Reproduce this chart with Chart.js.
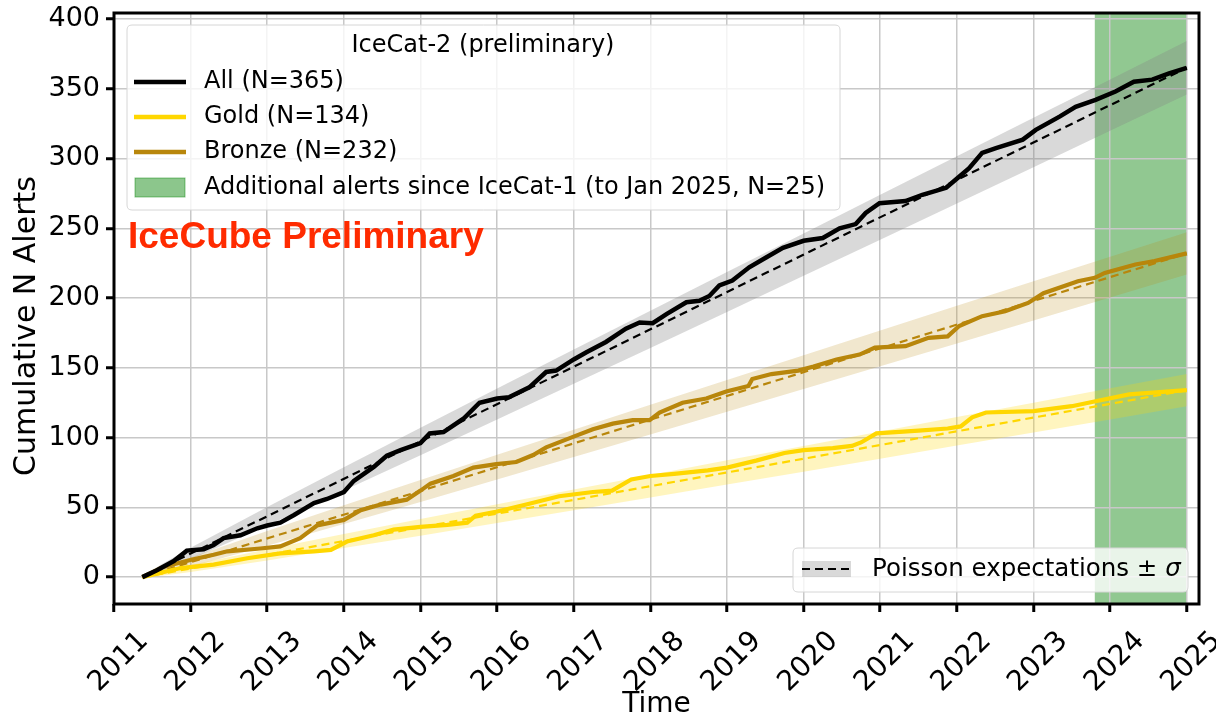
<!DOCTYPE html>
<html><head><meta charset="utf-8">
<script src="https://cdn.jsdelivr.net/npm/chart.js@4/dist/chart.umd.min.js"></script>
<style>html,body{margin:0;padding:0;background:#fff;} #c{display:block;}</style>
</head><body>
<canvas id="c" width="1216" height="719"></canvas>
<script>
// ---------- data ----------
const yearTicks = [2011,2012,2013,2014,2015,2016,2017,2018,2019,2020,2021,2022,2023,2024,2025];
const countTicks = [0,50,100,150,200,250,300,350,400];

const allX = [2011.37,2011.56,2011.78,2011.95,2012.17,2012.30,2012.43,2012.65,2012.87,2013.0,2013.17,2013.35,2013.61,2013.78,2014.0,2014.13,2014.39,2014.56,2014.74,2015.0,2015.12,2015.3,2015.56,2015.77,2016.0,2016.16,2016.42,2016.64,2016.77,2017.0,2017.16,2017.42,2017.68,2017.86,2018.03,2018.21,2018.47,2018.64,2018.77,2018.90,2019.07,2019.29,2019.51,2019.73,2020.0,2020.25,2020.47,2020.68,2020.81,2020.99,2021.33,2021.55,2021.86,2022.01,2022.16,2022.33,2022.51,2022.86,2023.03,2023.34,2023.55,2023.81,2024.07,2024.31,2024.55,2024.77,2025.0];
const allY = [0,5,11.5,19,20,23,28,30,35,37,39,44.5,53,56,61,69,79,87,91,96,103,104,113.5,125,128,129,136,147,148,156,161,168.5,178,182.5,182,188.5,197,198,201.5,209,212.5,222,229,236,241,243,250,253,261,268,269.5,274,279,286,293,304,307.5,313.5,320.5,330,337,342,348,355,356.5,361,365];

const goldX = [2011.37,2011.87,2012.30,2012.74,2013.17,2013.61,2013.83,2014.04,2014.39,2014.65,2015.0,2015.35,2015.61,2015.72,2016.0,2016.38,2016.81,2017.25,2017.5,2017.75,2018.0,2018.31,2018.75,2019.0,2019.38,2019.75,2020.0,2020.38,2020.63,2020.75,2020.95,2021.5,2021.88,2022.05,2022.2,2022.38,2023.0,2023.5,2023.81,2024.25,2025.0];
const goldY = [0,6.5,9,13.5,17,18.5,19.5,25.5,30,34,36,37.5,39,44,47,52,58,61,62,70,72.5,74,76.5,78.5,83.5,89,91,92.5,94,96.5,103,105,106.5,108,114.5,118,119,122.5,126,131,134];

const bronzeX = [2011.37,2011.65,2012.01,2012.30,2012.48,2012.91,2013.17,2013.43,2013.65,2014.0,2014.22,2014.48,2014.82,2015.0,2015.13,2015.43,2015.69,2015.99,2016.25,2016.47,2016.64,2016.99,2017.25,2017.51,2017.77,2017.99,2018.12,2018.42,2018.73,2018.99,2019.28,2019.33,2019.58,2019.93,2020.13,2020.43,2020.73,2020.93,2021.33,2021.63,2021.88,2022.03,2022.33,2022.63,2022.93,2023.13,2023.58,2023.8,2023.93,2024.33,2024.58,2025.0];
const bronzeY = [0,7.5,12.5,16,18.5,20.5,22,28,37,41,48,52,55.5,62,67,72.5,78.5,81,82.5,87.5,93,100.5,106,110,112.5,112.5,118,125,128,133,137,142,145.5,148,151,156,159.5,164.5,165.5,171.5,172.5,180,187,190.5,196.5,203.5,212,214.5,218,224,226.5,232];

// Poisson expectation (dashed) end points
const expX = [2011.37, 2025.0];
const expAll = [0, 365];
const expGold = [0, 134];
const expBronze = [0, 232];

// +/- sigma bands
const bandX = [2011.37,2011.6,2012,2013,2014,2015,2016,2017,2018,2019,2020,2021,2022,2023,2024,2025];
const allLo = [0,3.7,12.8,37.0,62.0,87.4,112.9,138.5,164.2,190.0,215.9,241.8,267.8,293.8,319.8,345.9];
const allHi = [0,8.6,21.0,50.3,78.8,107.1,135.1,163.1,190.9,218.6,246.3,274.0,301.6,329.1,356.6,384.1];
const goldLo = [0,0.8,3.7,12.0,20.8,29.7,38.8,47.9,57.1,66.3,75.6,84.9,94.3,103.6,113.0,122.4];
const goldHi = [0,3.8,8.7,20.0,30.9,41.7,52.3,62.8,73.2,83.7,94.0,104.4,114.7,125.0,135.3,145.6];
const bronzeLo = [0,1.9,7.5,22.5,38.1,53.9,69.9,86.0,102.2,118.5,134.8,151.1,167.5,183.9,200.3,216.8];
const bronzeHi = [0,5.9,14.0,33.0,51.5,69.6,87.7,105.6,123.5,141.3,159.0,176.7,194.4,212.0,229.6,247.2];

// additional alerts span (since IceCat-1)
const spanX = [2023.80, 2025.0];

const yTitle = 'Cumulative N Alerts';
const legendTitle = 'IceCat-2 (preliminary)';
const legendLabels = ['All (N=365)', 'Gold (N=134)', 'Bronze (N=232)', 'Additional alerts since IceCat-1 (to Jan 2025, N=25)'];
const poissonLabel = 'Poisson expectations \u00b1 ';

// ---------- styles ----------
const BLACK = '#000000', GOLD = '#FFD700', BRONZE = '#B8860B';
const pts = (xs, ys) => xs.map((x, i) => ({x, y: ys[i]}));

Chart.defaults.font.family = "'DejaVu Sans', sans-serif";
Chart.defaults.color = '#000';

const datasets = [
  {label:'allLo', data: pts(bandX, allLo), borderWidth:0, pointRadius:0, fill:false, order:30},
  {label:'allHi', data: pts(bandX, allHi), borderWidth:0, pointRadius:0, fill:{target:0}, backgroundColor:'rgba(128,128,128,0.3)', order:29},
  {label:'bronzeLo', data: pts(bandX, bronzeLo), borderWidth:0, pointRadius:0, fill:false, order:28},
  {label:'bronzeHi', data: pts(bandX, bronzeHi), borderWidth:0, pointRadius:0, fill:{target:2}, backgroundColor:'rgba(184,134,11,0.2)', order:27},
  {label:'goldLo', data: pts(bandX, goldLo), borderWidth:0, pointRadius:0, fill:false, order:26},
  {label:'goldHi', data: pts(bandX, goldHi), borderWidth:0, pointRadius:0, fill:{target:4}, backgroundColor:'rgba(255,215,0,0.25)', order:25},
  {label:'expAll', data: pts(expX, expAll), borderColor:BLACK, borderWidth:2.2, borderDash:[8,5], pointRadius:0, fill:false, order:20},
  {label:'expBronze', data: pts(expX, expBronze), borderColor:BRONZE, borderWidth:2.2, borderDash:[8,5], pointRadius:0, fill:false, order:19},
  {label:'expGold', data: pts(expX, expGold), borderColor:GOLD, borderWidth:2.2, borderDash:[8,5], pointRadius:0, fill:false, order:18},
  {label:'Gold', data: pts(goldX, goldY), borderColor:GOLD, borderWidth:4.2, pointRadius:0, fill:false, order:3},
  {label:'Bronze', data: pts(bronzeX, bronzeY), borderColor:BRONZE, borderWidth:4.2, pointRadius:0, fill:false, order:2},
  {label:'All', data: pts(allX, allY), borderColor:BLACK, borderWidth:4.5, pointRadius:0, fill:false, order:1}
];

function roundRect(ctx, x, y, w, h, r) {
  ctx.beginPath();
  ctx.moveTo(x + r, y);
  ctx.lineTo(x + w - r, y); ctx.quadraticCurveTo(x + w, y, x + w, y + r);
  ctx.lineTo(x + w, y + h - r); ctx.quadraticCurveTo(x + w, y + h, x + w - r, y + h);
  ctx.lineTo(x + r, y + h); ctx.quadraticCurveTo(x, y + h, x, y + h - r);
  ctx.lineTo(x, y + r); ctx.quadraticCurveTo(x, y, x + r, y);
  ctx.closePath();
}

const decor = {
  id: 'decor',
  beforeDraw(chart) {
    const {ctx, chartArea: a, scales: {x}} = chart;
    ctx.save();
    const x0 = x.getPixelForValue(spanX[0]), x1 = x.getPixelForValue(spanX[1]);
    ctx.fillStyle = 'rgba(0,128,0,0.43)';
    ctx.fillRect(x0, a.top, x1 - x0, a.bottom - a.top);
    ctx.restore();
  },
  afterDatasetsDraw(chart) {
    const {ctx, chartArea: a} = chart;
    ctx.save();
    ctx.strokeStyle = '#000'; ctx.lineWidth = 3;
    ctx.strokeRect(a.left, a.top, a.right - a.left, a.bottom - a.top);
    ctx.restore();
  },
  afterDraw(chart) {
    const {ctx} = chart;
    ctx.save();
    // y-axis title
    ctx.save();
    ctx.translate(27, 326);
    ctx.rotate(-Math.PI / 2);
    ctx.font = "30px 'DejaVu Sans'"; ctx.fillStyle = '#000';
    ctx.textAlign = 'center'; ctx.textBaseline = 'middle';
    ctx.fillText(yTitle, 0, 0);
    ctx.restore();

    roundRect(ctx, 127, 25, 713, 185, 5);
    ctx.fillStyle = 'rgba(255,255,255,0.8)'; ctx.fill();
    ctx.strokeStyle = '#d6d6d6'; ctx.lineWidth = 1; ctx.stroke();
    ctx.font = "24px 'DejaVu Sans'"; ctx.fillStyle = '#000';
    ctx.textBaseline = 'middle'; ctx.textAlign = 'center';
    ctx.fillText(legendTitle, 483, 46);
    ctx.textAlign = 'left';
    const rows = [82, 117, 152, 188];
    const cols = [BLACK, GOLD, BRONZE];
    ctx.lineWidth = 4.5; ctx.lineCap = 'butt';
    for (let i = 0; i < 3; i++) {
      ctx.strokeStyle = cols[i];
      ctx.beginPath(); ctx.moveTo(134, rows[i]); ctx.lineTo(186, rows[i]); ctx.stroke();
    }
    ctx.fillStyle = 'rgba(0,128,0,0.45)';
    ctx.fillRect(135, 178, 50, 19);
    ctx.strokeStyle = 'rgba(0,128,0,0.45)'; ctx.lineWidth = 1;
    ctx.strokeRect(135, 178, 50, 19);
    ctx.fillStyle = '#000';
    for (let i = 0; i < 4; i++) ctx.fillText(legendLabels[i], 204, rows[i]);

    roundRect(ctx, 793, 548, 395, 44, 5);
    ctx.fillStyle = 'rgba(255,255,255,0.8)'; ctx.fill();
    ctx.strokeStyle = '#d6d6d6'; ctx.lineWidth = 1; ctx.stroke();
    ctx.fillStyle = 'rgba(128,128,128,0.3)';
    ctx.fillRect(802, 561, 49, 16);
    ctx.strokeStyle = '#000'; ctx.lineWidth = 2.2; ctx.setLineDash([8,5]);
    ctx.beginPath(); ctx.moveTo(802, 569); ctx.lineTo(851, 569); ctx.stroke();
    ctx.setLineDash([]);
    ctx.fillStyle = '#000';
    ctx.font = "24.5px 'DejaVu Sans'";
    ctx.fillText(poissonLabel, 872, 570);
    const w = ctx.measureText(poissonLabel).width;
    ctx.font = "italic 24.5px 'DejaVu Sans'";
    ctx.fillText('\u03c3', 872 + w, 570);

    ctx.font = "bold 37px 'Liberation Sans', Arial, sans-serif";
    ctx.fillStyle = 'rgb(255,43,0)';
    ctx.textBaseline = 'middle';
    ctx.fillText('IceCube Preliminary', 128, 238);
    ctx.restore();
  }
};

new Chart(document.getElementById('c'), {
  type: 'line',
  data: { datasets },
  options: {
    responsive: false,
    animation: false,
    devicePixelRatio: 1,
    layout: { padding: { left: 0, top: 13, right: 17, bottom: 0 } },
    plugins: { legend: { display: false }, tooltip: { enabled: false } },
    elements: { line: { tension: 0 } },
    scales: {
      x: {
        type: 'linear', min: 2011, max: 2025.16,
        afterBuildTicks: s => { s.ticks = yearTicks.map(v => ({value: v})); },
        afterFit: s => { s.height = 115; s.paddingLeft = 0; s.paddingRight = 0; },
        ticks: { minRotation: 45, maxRotation: 45, autoSkip: false, font: {size: 28}, color: '#000',
                 labelOffset: 30, padding: 13, callback: v => String(v) },
        grid: { color: '#c8c8c8', lineWidth: 1.5, tickColor: '#000', tickWidth: 3, tickLength: 8 },
        border: { display: false },
        title: { display: true, text: 'Time', font: {size: 28, lineHeight: 1.0}, color: '#000', padding: {top: 0, bottom: 0} }
      },
      y: {
        type: 'linear', min: -19.25, max: 404.25,
        afterBuildTicks: s => { s.ticks = countTicks.map(v => ({value: v})); },
        afterFit: s => { s.width = 114; s.paddingTop = 0; s.paddingBottom = 0; },
        ticks: { font: {size: 27}, color: '#000', padding: 6, callback: v => String(v) },
        grid: { color: '#c8c8c8', lineWidth: 1.5, tickColor: '#000', tickWidth: 3, tickLength: 8 },
        border: { display: false },
        title: { display: false }
      }
    }
  },
  plugins: [decor]
});
</script>
</body></html>
